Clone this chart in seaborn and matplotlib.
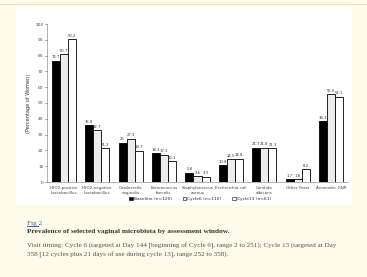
import matplotlib
matplotlib.use("Agg")
import matplotlib.pyplot as plt
import seaborn as sns
import pandas as pd
from matplotlib.patches import Rectangle, Patch

categories = ["H2O2-positive\nLactobacillus", "H2O2-negative\nLactobacillus", "Gardnerella\nvaginalis",
              "Enterococcus\nfaecalis", "Staphylococcus\naureus", "Escherichia coli",
              "Candida\nalbicans", "Other Yeast", "Anaerobic GNR"]
series = ["Baseline (n=120)", "Cycle6 (n=110)", "Cycle13 (n=61)"]
baseline = [76.7, 35.8, 25, 18.3, 5.8, 10.8, 21.7, 1.7, 38.3]
cycle6 = [80.7, 32.7, 27.3, 17.3, 3.6, 14.5, 21.8, 1.8, 55.5]
cycle13 = [90.2, 21.3, 19.7, 13.1, 3.3, 14.8, 21.3, 8.2, 54.1]
labels_b = ["76.7", "35.8", "25", "18.3", "5.8", "10.8", "21.7", "1.7", "38.3"]
labels_6 = ["80.7", "32.7", "27.3", "17.3", "3.6", "14.5", "21.8", "1.8", "55.5"]
labels_13 = ["90.2", "21.3", "19.7", "13.1", "3.3", "14.8", "21.3", "8.2", "54.1"]

rows = []
for s, vals in zip(series, [baseline, cycle6, cycle13]):
    for c, v in zip(categories, vals):
        rows.append({"cat": c, "series": s, "val": v})
df = pd.DataFrame(rows)

sns.set_theme(style="white")
plt.rcParams['font.family'] = ['DejaVu Sans']

W, H = 367, 277
fig = plt.figure(figsize=(W / 100, H / 100), dpi=100)
fig.patch.set_facecolor("#fefbea")
# top peach line
fig.add_artist(Rectangle((0, 1 - 5 / H), 1, 1.2 / H, transform=fig.transFigure,
                         facecolor="#f6dcc0", edgecolor="none", zorder=-10))
# white chart box
fig.add_artist(Rectangle((16 / W, 1 - 205 / H), (352 - 16) / W, (205 - 7) / H,
                         transform=fig.transFigure, facecolor="white", edgecolor="none",
                         zorder=-10))

ax = fig.add_axes([47 / W, 1 - 182 / H, (348 - 47) / W, (182 - 24) / H])
ax.set_facecolor("none")
ax.patch.set_alpha(0)
palette = ["black", "#ececec", "white"]
sns.barplot(data=df, x="cat", y="val", hue="series", palette=palette, width=0.72,
            edgecolor="black", linewidth=0.6, ax=ax, legend=False, saturation=1)

for cont, labs in zip(ax.containers, [labels_b, labels_6, labels_13]):
    ax.bar_label(cont, labels=labs, fontsize=2.7, padding=1, color="#333333")

ax.set_ylim(0, 100)
ax.set_yticks(range(0, 101, 10))
ax.tick_params(axis="y", labelsize=3.2, length=1.5, width=0.4, pad=1, colors="#444444", left=True)
ax.tick_params(axis="x", labelsize=2.9, length=1.5, width=0.4, pad=1.5, colors="#444444")
ax.set_xlim(-0.5, 8.5)
ax.set_xlabel("")
ax.set_ylabel("(Percentage of Women)", fontsize=3.6, labelpad=3, color="#333333")
for sp in ["top", "right"]:
    ax.spines[sp].set_visible(False)
for sp in ["left", "bottom"]:
    ax.spines[sp].set_linewidth(0.4)
    ax.spines[sp].set_color("#777777")

handles = [Patch(facecolor=c, edgecolor="black", linewidth=0.4) for c in palette]
fig.legend(handles, series, loc="center", bbox_to_anchor=(200 / W, 1 - 199 / H), ncol=3,
           fontsize=3.2, frameon=False, handlelength=0.8, handleheight=0.8,
           handletextpad=0.2, columnspacing=2.5, borderpad=0)

serif = ["Liberation Serif", "DejaVu Serif"]
fig.text(27 / W, 1 - 223 / H, "Fig 2", fontsize=5.2, family=serif, color="#3a5fa8",
         va="center", ha="left")
fig.add_artist(Rectangle((27 / W, 1 - 226.5 / H), 12 / W, 0.5 / H, transform=fig.transFigure,
                         facecolor="#3a5fa8", edgecolor="none"))
fig.text(27 / W, 1 - 232 / H, "Prevalence of selected vaginal microbiota by assessment window.",
         fontsize=5.3, family=serif, weight="bold", color="#333333", va="center", ha="left")
fig.text(27 / W, 1 - 246 / H,
         "Visit timing: Cycle 6 (targeted at Day 144 [beginning of Cycle 6], range 2 to 251); Cycle 13 (targeted at Day",
         fontsize=5.1, family=serif, color="#555555", va="center", ha="left")
fig.text(27 / W, 1 - 255 / H,
         "358 [12 cycles plus 21 days of use during cycle 13], range 252 to 358).",
         fontsize=5.1, family=serif, color="#555555", va="center", ha="left")

fig.savefig("out.png", dpi=100, facecolor=fig.get_facecolor())
